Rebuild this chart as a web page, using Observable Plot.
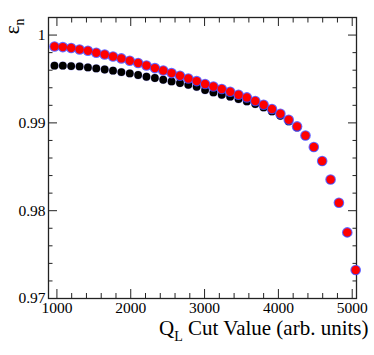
<!DOCTYPE html>
<html>
<head>
<meta charset="utf-8">
<script src="https://cdn.jsdelivr.net/npm/d3@7"></script>
<script src="https://cdn.jsdelivr.net/npm/@observablehq/plot@0.6"></script>
<style>
  html, body { margin: 0; padding: 0; background: #fff; }
</style>
</head>
<body>
<div id="chart"></div>
<script>
// Q_L cut values (x)
const CUT = [967,1080,1193,1307,1420,1533,1647,1760,1873,1987,2100,2213,2327,2440,2553,2667,2780,2893,3007,3120,3233,3347,3460,3573,3687,3800,3913,4027,4140,4253,4367,4480,4593,4707,4820,4933,5047];
// red series (efficiency)
const EFF_RED = [0.99870,0.99863,0.99852,0.99836,0.99821,0.99799,0.99779,0.99756,0.99734,0.99707,0.99681,0.99654,0.99624,0.99597,0.99567,0.99537,0.99506,0.99476,0.99442,0.99415,0.99385,0.99355,0.99320,0.99290,0.99249,0.99207,0.99158,0.99104,0.99036,0.98960,0.98857,0.98725,0.98566,0.98356,0.98091,0.97753,0.97325];
// black series (efficiency)
const EFF_BLACK = [0.99651,0.99651,0.99647,0.99643,0.99631,0.99620,0.99608,0.99594,0.99579,0.99563,0.99545,0.99525,0.99511,0.99491,0.99472,0.99454,0.99434,0.99411,0.99374,0.99347,0.99320,0.99298,0.99271,0.99244,0.99215,0.99176,0.99130,0.99081,0.99017,0.98948,0.98850,0.98720,0.98560,0.98350,0.98085,0.97748,0.97320];

const X_MAJOR = [1000,2000,3000,4000,5000];
const X_MINOR = [1200,1400,1600,1800,2200,2400,2600,2800,3200,3400,3600,3800,4200,4400,4600,4800];
const Y_MAJOR = [0.97,0.98,0.99,1.00];
const Y_MINOR = [0.972,0.974,0.976,0.978,0.982,0.984,0.986,0.988,0.992,0.994,0.996,0.998];
const Y_LABELS = ["0.97","0.98","0.99","1"];
const X_TITLE_MAIN = "Q";
const X_TITLE_SUB = "L";
const X_TITLE_REST = "Cut Value (arb. units)";
const Y_TITLE_MAIN = "ε";
const Y_TITLE_SUB = "n";

const red = CUT.map((x, i) => ({x, y: EFF_RED[i]}));
const black = CUT.map((x, i) => ({x, y: EFF_BLACK[i]}));

const FONT = "'Liberation Serif', 'Times New Roman', serif";
const frameColor = "#222";

const svg = Plot.plot({
  width: 374,
  height: 355,
  marginLeft: 48,
  marginRight: 18,
  marginTop: 17,
  marginBottom: 57,
  style: {fontFamily: FONT, fontSize: "15px", background: "#fff", color: "#000"},
  x: {domain: [886, 5058]},
  y: {domain: [0.97, 1.002]},
  marks: [
    // labels
    Plot.axisX(X_MAJOR, {anchor: "bottom", tickSize: 0, tickPadding: 3, label: null, tickFormat: d => String(d)}),
    Plot.axisY(Y_MAJOR, {anchor: "left", tickSize: 0, tickPadding: 3, label: null, tickFormat: d => Y_LABELS[Y_MAJOR.indexOf(d)]}),
    // inward ticks
    Plot.axisX(X_MAJOR, {anchor: "bottom", tickSize: -9, label: null, tickFormat: () => "", stroke: frameColor}),
    Plot.axisX(X_MINOR, {anchor: "bottom", tickSize: -5, label: null, tickFormat: () => "", stroke: frameColor}),
    Plot.axisX(X_MAJOR, {anchor: "top", tickSize: -8, label: null, tickFormat: () => "", stroke: frameColor}),
    Plot.axisX(X_MINOR, {anchor: "top", tickSize: -4.5, label: null, tickFormat: () => "", stroke: frameColor}),
    Plot.axisY(Y_MAJOR, {anchor: "left", tickSize: -9, label: null, tickFormat: () => "", stroke: frameColor}),
    Plot.axisY(Y_MINOR, {anchor: "left", tickSize: -4.5, label: null, tickFormat: () => "", stroke: frameColor}),
    Plot.axisY(Y_MAJOR, {anchor: "right", tickSize: -9, label: null, tickFormat: () => "", stroke: frameColor}),
    Plot.axisY(Y_MINOR, {anchor: "right", tickSize: -4.5, label: null, tickFormat: () => "", stroke: frameColor}),
    Plot.frame({stroke: frameColor, strokeWidth: 1.3}),
    // black series with faint blue outline
    Plot.dot(black, {x: "x", y: "y", r: 4.4, fill: "#7777ff", fillOpacity: 0.45, stroke: "none"}),
    Plot.dot(black, {x: "x", y: "y", r: 3.9, fill: "#000", stroke: "none"}),
    // red series with blue halo
    Plot.dot(red, {x: "x", y: "y", r: 5.3, fill: "#4a4aff", fillOpacity: 0.85, stroke: "none"}),
    Plot.dot(red, {x: "x", y: "y", r: 4.2, fill: "#ff0000", stroke: "none"}),
    // titles
    Plot.text([X_TITLE_MAIN + X_TITLE_SUB + " " + X_TITLE_REST], {text: d => d, frameAnchor: "bottom-right", textAnchor: "end", lineAnchor: "middle", dx: 12, dy: 30, fontSize: 21, fontFamily: FONT}),
    Plot.text([Y_TITLE_MAIN + Y_TITLE_SUB], {text: d => d, frameAnchor: "top-left", textAnchor: "end", lineAnchor: "middle", rotate: -90, dx: -36, dy: 1, fontSize: 21, fontFamily: FONT})
  ]
});

const xTitleFull = X_TITLE_MAIN + X_TITLE_SUB + " " + X_TITLE_REST;
const yTitleFull = Y_TITLE_MAIN + Y_TITLE_SUB;
const tickLabelSet = new Set([...X_MAJOR.map(String), ...Y_LABELS]);
d3.select(svg).selectAll("text").each(function () {
  const t = d3.select(this);
  const s = t.text();
  if (s === xTitleFull) {
    t.text(null);
    t.append("tspan").text(X_TITLE_MAIN);
    t.append("tspan").attr("dy", 6).attr("font-size", 14).text(X_TITLE_SUB);
    t.append("tspan").attr("dy", -6).text("\u00a0" + X_TITLE_REST);
  } else if (s === yTitleFull) {
    t.text(null);
    t.append("tspan").text(Y_TITLE_MAIN);
    t.append("tspan").attr("dy", 5).attr("font-size", 14).text(Y_TITLE_SUB);
  } else if (tickLabelSet.has(s)) {
    t.style("font-size", "15.5px").style("font-family", FONT).style("font-variant-numeric", "normal");
  }
});

document.getElementById("chart").appendChild(svg);
</script>
</body>
</html>
